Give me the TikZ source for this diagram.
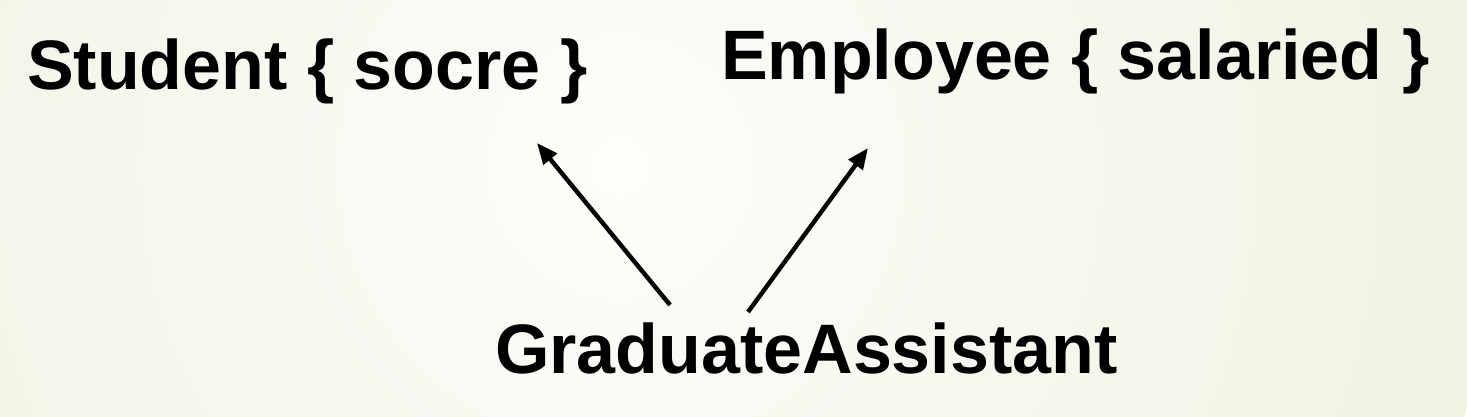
\documentclass[tikz,border=0pt]{standalone}
\usepackage{fontspec}
\setmainfont{Liberation Sans}
\usetikzlibrary{arrows.meta}
\definecolor{bgin}{RGB}{253,253,250}
\definecolor{bgout}{RGB}{224,233,203}
\pgfdeclareradialshading{bgshade}{\pgfpoint{0bp}{0bp}}{color(0bp)=(bgin); color(50bp)=(bgout)}
\tikzset{
  lbl/.style={inner sep=0pt, anchor=base west, font=\fontsize{70}{80}\selectfont\bfseries},
  inh/.style={line width=4.4pt, -{Triangle[length=21pt,width=17pt]}}
}
\begin{document}
\begin{tikzpicture}[x=1pt,y=1pt]
\useasboundingbox (0,0) rectangle (1467,417);
\begin{scope}
\clip (0,0) rectangle (1467,417);
\shade[shading=bgshade] (620,250) circle (880);
\end{scope}
\node[lbl] (student) at (27,327) {Student \{ socre \}};
\node[lbl] (employee) at (721,337) {Employee \{ salaried \}};
\node[lbl] (ga) at (495,43) {GraduateAssistant};
\coordinate (s1) at (670,112);
\coordinate (s2) at (537,274);
\coordinate (e1) at (748,105);
\coordinate (e2) at (868,269);
\draw[inh] (s1) -- (s2);
\draw[inh] (e1) -- (e2);
\end{tikzpicture}
\end{document}
